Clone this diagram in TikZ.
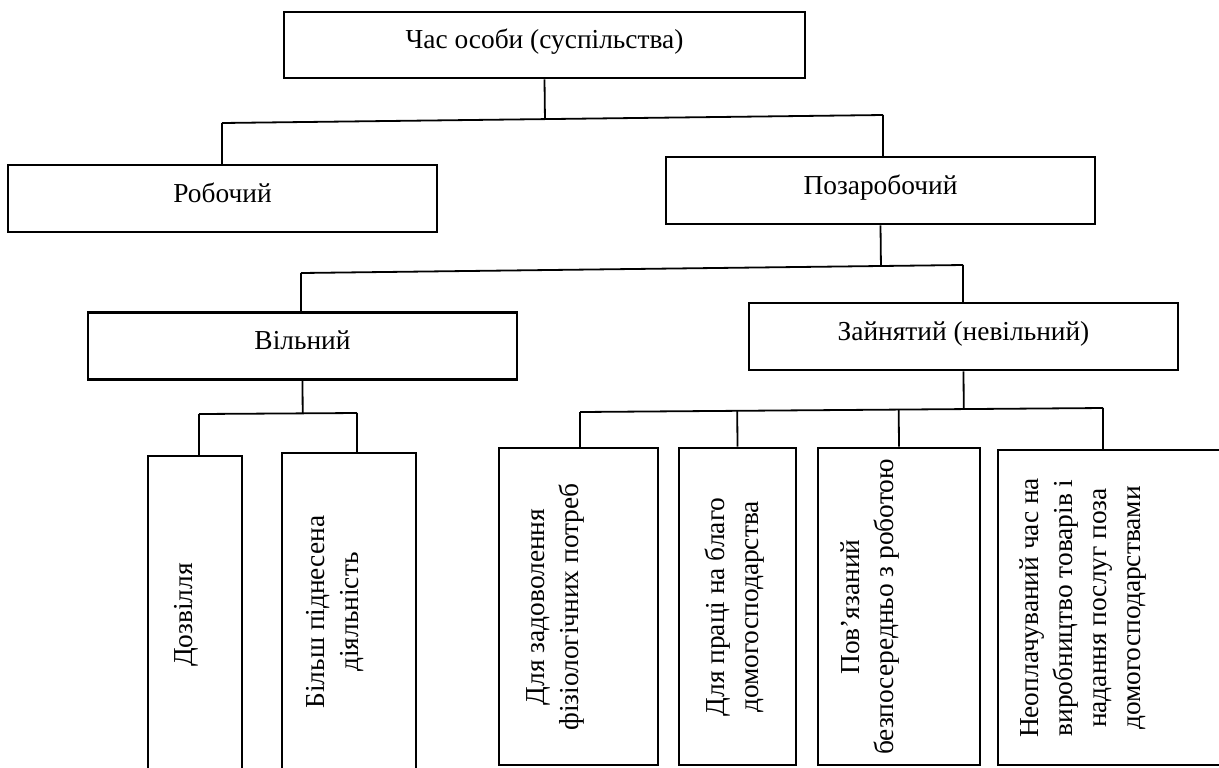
\documentclass[tikz,border=0pt]{standalone}
\usepackage{fontspec}
\setmainfont{Liberation Serif}
\usetikzlibrary{calc}

\begin{document}
\begin{tikzpicture}[x=0.5pt, y=-0.5pt,
  %% styles
  box/.style={rectangle, draw=black, line width=1.4pt, fill=white,
              minimum width=#1, minimum height=33.5pt, inner sep=0pt,
              text height=0.6em, text depth=0.24em,
              font=\fontsize{13.7}{17}\selectfont},
  tallbox/.style 2 args={rectangle, draw=black, line width=1.4pt,
              fill=white, minimum width=#1, minimum height=#2,
              inner sep=0pt},
  vlbl/.style={rotate=90, align=center, inner sep=0pt,
               font=\fontsize{13.7}{17}\selectfont},
  link/.style={draw=black, line width=0.9pt},
]

%% page frame (pixels of the reference)
\useasboundingbox (0,0) rectangle (1219,767);

%% ------ bus lines (slightly slanted, as in the original) --------------
\coordinate (b1l) at (222,123);  \coordinate (b1r) at (883,115);
\coordinate (b2l) at (301,273);  \coordinate (b2r) at (963,265);
\coordinate (b3l) at (199,414);  \coordinate (b3r) at (357,413);
\coordinate (b4l) at (580,412);  \coordinate (b4r) at (1103,408);

%% ------ upper levels --------------------------------------------------
\node[box=260.5pt, minimum height=33pt] (person) at (544.5,45)
  {Час особи (суспільства)};
\node[box=214.5pt] (work)    at (222.5,198.5) {Робочий};
\node[box=214.5pt] (nonwork) at (880.5,190.5) {Позаробочий};
\node[box=214.5pt] (free)    at (302.5,346)   {Вільний};
\node[box=214.5pt] (busy)    at (963.5,336.5) {Зайнятий (невільний)};

%% ------ lower level (tall boxes, vertical text) -----------------------
\node[tallbox={47pt}{172pt}]      (leisure) at (195,628)     {};
\node[tallbox={67pt}{173.5pt}]    (higher)  at (349,626.5)   {};
\node[tallbox={79.5pt}{158.5pt}]  (physio)  at (578.5,606.5) {};
\node[tallbox={58.5pt}{158.5pt}]  (house)   at (737.5,606.5) {};
\node[tallbox={81pt}{158.5pt}]    (job)     at (899,606.5)   {};
\node[tallbox={121pt}{157.5pt}]   (unpaid)  at (1119,607.5)  {};

\node[vlbl] (leisureT) at (186,615) {Дозвілля};
\node[vlbl] (higherT)  at (335,612) {Більш піднесена\\діяльність};
\node[vlbl] (physioT)  at (555,607) {Для задоволення\\фізіологічних потреб};
\node[vlbl] (houseT)   at (735,607) {Для праці на благо\\домогосподарства};
\node[vlbl] (jobT)     at (870,607) {Пов’язаний\\безпосередньо з роботою};
\node[vlbl] (unpaidT)  at (1083,608)
  {Неоплачуваний час на\\виробництво товарів і\\надання послуг поза\\домогосподарствами};

%% ------ connectors ----------------------------------------------------
%% level 1
\draw[link] (b1l) -- (b1r);
\draw[link] (person.south) -- ($(b1l)!(person.south)!(b1r)$);
\draw[link] (b1l) -- (b1l |- work.north);
\draw[link] (b1r) -- (b1r |- nonwork.north);

%% level 2
\draw[link] (b2l) -- (b2r);
\draw[link] (nonwork.south) -- ($(b2l)!(nonwork.south)!(b2r)$);
\draw[link] (b2l) -- (b2l |- free.north);
\draw[link] (b2r) -- (b2r |- busy.north);

%% level 3, free time
\draw[link] (b3l) -- (b3r);
\draw[link] (free.south) -- ($(b3l)!(free.south)!(b3r)$);
\draw[link] (b3l) -- (b3l |- leisure.north);
\draw[link] (b3r) -- (b3r |- higher.north);

%% level 3, occupied time
\draw[link] (b4l) -- (b4r);
\draw[link] (busy.south) -- ($(b4l)!(busy.south)!(b4r)$);
\draw[link] (b4l) -- (b4l |- physio.north);
\draw[link] (house.north) -- ($(b4l)!(house.north)!(b4r)$);
\draw[link] (job.north) -- ($(b4l)!(job.north)!(b4r)$);
\draw[link] (b4r) -- (b4r |- unpaid.north);

\end{tikzpicture}
\end{document}
